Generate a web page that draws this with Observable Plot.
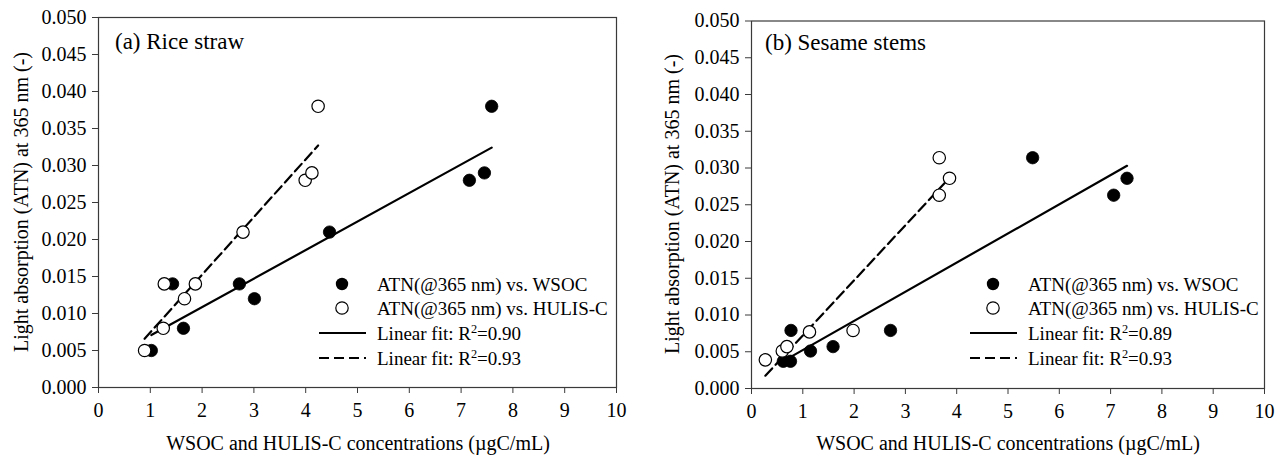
<!DOCTYPE html>
<html><head><meta charset="utf-8">
<script src="https://cdn.jsdelivr.net/npm/d3@7"></script>
<script src="https://cdn.jsdelivr.net/npm/@observablehq/plot@0.6"></script>
<style>
body{margin:0;background:#fff;}
#wrap{position:relative;width:1287px;height:457px;overflow:hidden;font-family:"Liberation Serif","Times New Roman",serif;color:#000;}
.panel{position:absolute;top:0;}
.txt{position:absolute;white-space:nowrap;font-family:"Liberation Serif","Times New Roman",serif;color:#000;}
.c{transform:translate(-50%,-50%);}
.r{transform:translate(-50%,-50%) rotate(-90deg);}
sup{font-size:0.65em;vertical-align:0.55em;line-height:0;}
</style></head><body><div id="wrap"></div>
<script>
// ---- data ----
const riceWsocX  = [1.02, 1.43, 1.64, 2.72, 3.01, 4.46, 7.16, 7.45, 7.59];
const riceWsocY  = [0.005, 0.014, 0.008, 0.014, 0.012, 0.021, 0.028, 0.029, 0.038];
const riceHulisX = [0.89, 1.25, 1.27, 1.66, 1.87, 2.79, 3.99, 4.12, 4.24];
const riceHulisY = [0.005, 0.008, 0.014, 0.012, 0.014, 0.021, 0.028, 0.029, 0.038];
const sesWsocX   = [0.62, 0.76, 0.77, 1.15, 1.59, 2.71, 5.48, 7.06, 7.32];
const sesWsocY   = [0.0037, 0.0037, 0.0079, 0.0051, 0.0057, 0.0079, 0.0314, 0.0263, 0.0286];
const sesHulisX  = [0.27, 0.60, 0.69, 1.13, 1.98, 3.66, 3.66, 3.86];
const sesHulisY  = [0.0039, 0.0051, 0.0057, 0.0077, 0.0079, 0.0314, 0.0263, 0.0286];
const xTicks = [0, 1, 2, 3, 4, 5, 6, 7, 8, 9, 10];
const xTickLabels = ["0","1","2","3","4","5","6","7","8","9","10"];
const yTicks = [0, 0.005, 0.010, 0.015, 0.020, 0.025, 0.030, 0.035, 0.040, 0.045, 0.050];
const yTickLabels = ["0.000","0.005","0.010","0.015","0.020","0.025","0.030","0.035","0.040","0.045","0.050"];
const panelTitles = ["(a) Rice straw", "(b) Sesame stems"];
const legendLabels = ["ATN(@365 nm) vs. WSOC", "ATN(@365 nm) vs. HULIS-C"];
const fitR2 = [["0.90", "0.93"], ["0.89", "0.93"]];
const xLabel = "WSOC and HULIS-C concentrations (\u00b5gC/mL)";
const yLabel = "Light absorption (ATN) at 365 nm (-)";

const zip = (xs, ys) => xs.map((x, i) => ({x, y: ys[i]}));
const FONT = '"Liberation Serif","Times New Roman",serif';
const TICKFONT = 20;
const DASH = "10,5";

function makePanel(wsoc, hulis, o) {
  return Plot.plot({
    width: o.width, height: 457,
    marginLeft: o.ml, marginRight: o.mr, marginTop: o.mt, marginBottom: o.mb,
    x: {domain: [0, 10]},
    y: {domain: [0, 0.05]},
    style: {fontFamily: FONT, fontSize: TICKFONT + "px", background: "transparent", color: "#000", overflow: "visible"},
    marks: [
      Plot.linearRegressionY(wsoc, {x: "x", y: "y", stroke: "#000", strokeWidth: 2.2, ci: 0}),
      Plot.linearRegressionY(hulis, {x: "x", y: "y", stroke: "#000", strokeWidth: 2.2, strokeDasharray: DASH, ci: 0}),
      Plot.dot(wsoc, {x: "x", y: "y", r: 6.2, fill: "#000", stroke: "#000", strokeWidth: 0.8}),
      Plot.dot(hulis, {x: "x", y: "y", r: 6.2, fill: "#fff", stroke: "#000", strokeWidth: 1.2}),
      Plot.frame({stroke: "#3a3a3a", strokeWidth: 1.2}),
      Plot.axisX({ticks: xTicks, tickFormat: (d, i) => xTickLabels[i], tickSize: 6, tickPadding: 9, label: null, stroke: "#3a3a3a", fill: "#000", fontSize: TICKFONT}),
      Plot.axisY({ticks: yTicks, tickFormat: (d, i) => yTickLabels[i], tickSize: 6, tickPadding: 6, label: null, stroke: "#3a3a3a", fill: "#000", fontSize: TICKFONT})
    ]
  });
}

const wrap = document.getElementById("wrap");
const panels = [
  {wsoc: zip(riceWsocX, riceWsocY), hulis: zip(riceHulisX, riceHulisY), left: 0, width: 640, ml: 98, mr: 24, mt: 17, mb: 70,
   title: [115, 41], ylab: [21, 202], xlab: [358, 443], leg: {sym: 342, l0: 319, l1: 366, tx: 377, rows: [284, 308, 333, 358]}},
  {wsoc: zip(sesWsocX, sesWsocY), hulis: zip(sesHulisX, sesHulisY), left: 640, width: 647, ml: 111, mr: 23, mt: 20.5, mb: 69,
   title: [765, 42], ylab: [672, 204], xlab: [1008, 443], leg: {sym: 993, l0: 970, l1: 1017, tx: 1028, rows: [284, 308, 333, 358]}}
];

function addText(html, x, y, size, cls, anchorLeft) {
  const d = document.createElement("div");
  d.className = "txt " + (cls || "");
  d.style.fontSize = size + "px";
  d.style.lineHeight = "1";
  d.innerHTML = html;
  d.style.left = x + "px";
  d.style.top = y + "px";
  if (anchorLeft) d.style.transform = "translate(0,-50%)";
  wrap.appendChild(d);
  return d;
}

function addSvg(x, y, w, h, inner) {
  const ns = "http://www.w3.org/2000/svg";
  const s = document.createElementNS(ns, "svg");
  s.setAttribute("width", w); s.setAttribute("height", h);
  s.style.position = "absolute"; s.style.left = (x) + "px"; s.style.top = (y - h / 2) + "px";
  s.innerHTML = inner;
  wrap.appendChild(s);
}

panels.forEach((p, k) => {
  const chart = makePanel(p.wsoc, p.hulis, p);
  chart.classList.add("panel");
  chart.style.left = p.left + "px";
  chart.querySelectorAll("text").forEach(t => { t.style.fontSize = TICKFONT + "px"; t.style.fontFamily = FONT; });
  wrap.appendChild(chart);
  addText(panelTitles[k], p.title[0], p.title[1], 23, "", true);
  addText(yLabel, p.ylab[0], p.ylab[1], 20, "r");
  addText(xLabel, p.xlab[0], p.xlab[1], 20, "c");
  const L = p.leg;
  addSvg(L.sym - 8, L.rows[0], 16, 16, '<circle cx="8" cy="8" r="6.2" fill="#000"/>');
  addSvg(L.sym - 8, L.rows[1], 16, 16, '<circle cx="8" cy="8" r="6.2" fill="#fff" stroke="#000" stroke-width="1.2"/>');
  addSvg(L.l0, L.rows[2], L.l1 - L.l0, 6, '<line x1="0" x2="' + (L.l1 - L.l0) + '" y1="3" y2="3" stroke="#000" stroke-width="2.2"/>');
  addSvg(L.l0, L.rows[3], L.l1 - L.l0, 6, '<line x1="0" x2="' + (L.l1 - L.l0) + '" y1="3" y2="3" stroke="#000" stroke-width="2.2" stroke-dasharray="' + DASH + '"/>');
  addText(legendLabels[0], L.tx, L.rows[0], 19, "", true);
  addText(legendLabels[1], L.tx, L.rows[1], 19, "", true);
  addText("Linear fit: R<sup>2</sup>=" + fitR2[k][0], L.tx, L.rows[2], 19, "", true);
  addText("Linear fit: R<sup>2</sup>=" + fitR2[k][1], L.tx, L.rows[3], 19, "", true);
});
</script>
</body></html>
